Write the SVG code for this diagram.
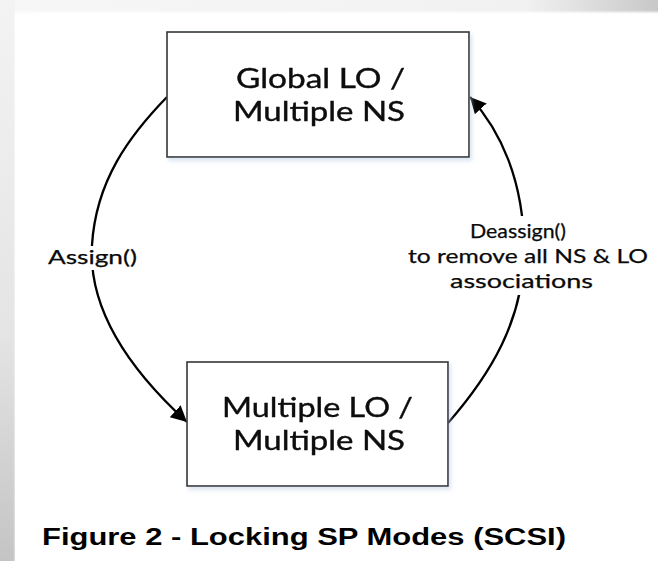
<svg xmlns="http://www.w3.org/2000/svg" width="658" height="561" viewBox="0 0 658 561">
  <defs>
    <linearGradient id="edgeLeft" x1="0" y1="0" x2="0" y2="1">
      <stop offset="0" stop-color="#f3f3f3"/>
      <stop offset="0.6" stop-color="#e4e4e4"/>
      <stop offset="1" stop-color="#c4c4c4"/>
    </linearGradient>
    <linearGradient id="edgeTop" x1="0" y1="0" x2="1" y2="0">
      <stop offset="0" stop-color="#f7f7f7"/>
      <stop offset="0.8" stop-color="#f1f1f1"/>
      <stop offset="1" stop-color="#c8c8c8"/>
    </linearGradient>
    <filter id="soft" x="-5%" y="-5%" width="110%" height="110%">
      <feGaussianBlur stdDeviation="1.2"/>
    </filter>
    <filter id="boxShadow" x="-10%" y="-10%" width="125%" height="130%">
      <feGaussianBlur in="SourceAlpha" stdDeviation="2"/>
      <feOffset dx="2" dy="3" result="b"/>
      <feFlood flood-color="#b9cde4" flood-opacity="0.55"/>
      <feComposite in2="b" operator="in" result="s"/>
      <feMerge>
        <feMergeNode in="s"/>
        <feMergeNode in="SourceGraphic"/>
      </feMerge>
    </filter>
    <marker id="head" markerUnits="userSpaceOnUse" markerWidth="20" markerHeight="20" refX="16" refY="8" orient="auto">
      <path d="M0,0 L16,8 L0,16 z" fill="#000"/>
    </marker>
  </defs>
  <style>
    .box { fill: #ffffff; stroke: #333333; stroke-width: 1.6; }
    .node-text { font-family: Lato, "Open Sans", sans-serif; font-size: 26px; fill: #0a0a0a; stroke: #0a0a0a; stroke-width: 0.35; }
    .edge { fill: none; stroke: #000000; stroke-width: 2.3; marker-end: url(#head); }
    .edge-label { font-family: Lato, "Open Sans", sans-serif; font-size: 19.5px; fill: #0a0a0a; stroke: #0a0a0a; stroke-width: 0.25; }
    .caption { font-family: "Liberation Sans", Arial, sans-serif; font-weight: bold; font-size: 23px; fill: #000000; }
  </style>

  <!-- page background with shaded edges -->
  <rect x="0" y="0" width="658" height="561" fill="#ffffff"/>
  <rect x="0" y="0" width="658" height="14" fill="url(#edgeTop)"/>
  <rect x="0" y="0" width="15" height="561" fill="url(#edgeLeft)"/>
  <rect x="15" y="12" width="650" height="560" fill="#ffffff" filter="url(#soft)"/>

  <!-- connectors -->
  <g id="connectors">
    <path id="edge-assign" class="edge" d="M167,97 C130,135 96,180 92,245 C88,310 130,370 187,422"/>
    <path id="edge-deassign" class="edge" d="M448,423 C490,375 524,320 524,250 C524,180 500,130 470,97"/>
  </g>

  <!-- connector labels -->
  <g id="label-assign">
    <rect x="46" y="246" width="94" height="24" fill="#ffffff"/>
    <text class="edge-label" x="48" y="264" textLength="89" lengthAdjust="spacingAndGlyphs">Assign()</text>
  </g>
  <g id="label-deassign">
    <rect x="406" y="216" width="244" height="79" fill="#ffffff"/>
    <text class="edge-label" x="470" y="238" textLength="96" lengthAdjust="spacingAndGlyphs">Deassign()</text>
    <text class="edge-label" x="408" y="263" textLength="240" lengthAdjust="spacingAndGlyphs">to remove all NS &amp; LO</text>
    <text class="edge-label" x="450" y="288" textLength="143" lengthAdjust="spacingAndGlyphs">associations</text>
  </g>

  <!-- nodes -->
  <g id="node-global" filter="url(#boxShadow)">
    <rect class="box" x="167" y="32" width="302" height="125"/>
    <text class="node-text" x="236" y="88" textLength="169" lengthAdjust="spacingAndGlyphs">Global LO /</text>
    <text class="node-text" x="233" y="121" textLength="172" lengthAdjust="spacingAndGlyphs">Multiple NS</text>
  </g>
  <g id="node-multiple" filter="url(#boxShadow)">
    <rect class="box" x="187" y="362" width="261" height="124"/>
    <text class="node-text" x="222" y="417" textLength="191" lengthAdjust="spacingAndGlyphs">Multiple LO /</text>
    <text class="node-text" x="233" y="450" textLength="172" lengthAdjust="spacingAndGlyphs">Multiple NS</text>
  </g>

  <!-- caption -->
  <text class="caption" x="42" y="545" textLength="524" lengthAdjust="spacingAndGlyphs">Figure 2 - Locking SP Modes (SCSI)</text>
</svg>
